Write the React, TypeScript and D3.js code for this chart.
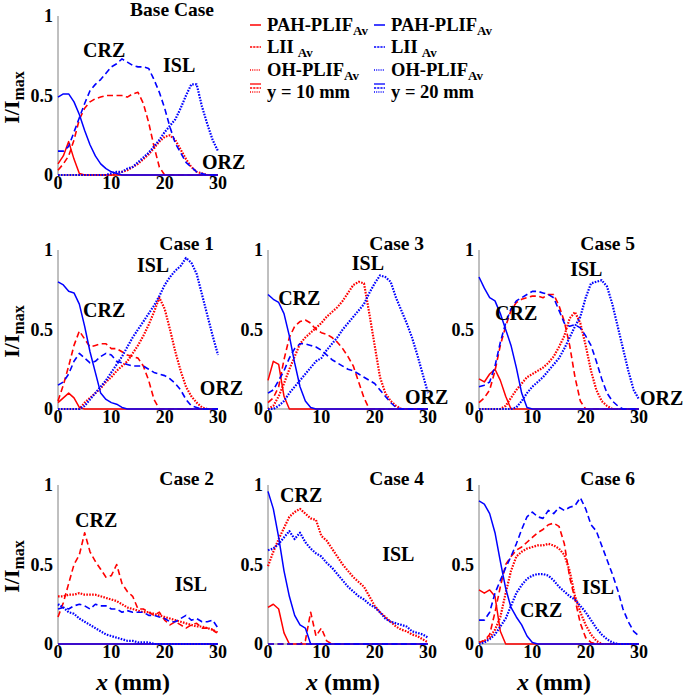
import React from 'react';
import * as d3 from 'd3';

// ---- axes / ticks ----
const X_MM = d3.range(0, 31); // sample positions, mm
const X_TICKS = [0, 10, 20, 30];
const Y_TICKS = [0, 0.5, 1];
const Y_TICK_LABELS = ['0', '0.5', '1'];

// ---- Base Case ----
const baseRedPAH = [0.07,0.12,0.21,0.1,0.01,0,0,0,0,0, 0,0,0,0,0,0,0,0,0,0, 0,0,0,0,0,0,0,0,0,0,0];
const baseRedLII = [0.03,0.07,0.12,0.22,0.35,0.42,0.46,0.48,0.49,0.5, 0.5,0.5,0.5,0.49,0.51,0.52,0.45,0.33,0.18,0.05, 0,0,0,0,0,0,0,0,0,0,0];
const baseRedOH = [0,0,0,0,0,0,0,0,0,0, 0,0.01,0.02,0.03,0.05,0.07,0.1,0.13,0.17,0.21, 0.24,0.25,0.22,0.16,0.1,0.05,0.02,0.01,0,0,0];
const baseBluePAH = [0.49,0.51,0.51,0.46,0.38,0.28,0.19,0.12,0.07,0.04, 0.02,0.01,0,0,0,0,0,0,0,0, 0,0,0,0,0,0,0,0,0,0,0];
const baseBlueLII = [0.15,0.15,0.18,0.27,0.36,0.45,0.53,0.57,0.6,0.64, 0.68,0.7,0.73,0.71,0.69,0.68,0.68,0.67,0.6,0.52, 0.42,0.3,0.2,0.14,0.08,0.05,0.02,0.01,0,0,0];
const baseBlueOH = [0,0,0,0,0,0,0,0,0,0, 0.01,0.02,0.02,0.04,0.05,0.08,0.11,0.14,0.18,0.22, 0.27,0.31,0.35,0.42,0.5,0.57,0.57,0.43,0.32,0.22,0.15];

// ---- Case 1 ----
const c1RedPAH = [0.04,0.07,0.1,0.07,0.01,0,0,0,0,0, 0,0,0,0,0,0,0,0,0,0, 0,0,0,0,0,0,0,0,0,0,0];
const c1RedLII = [0.05,0.15,0.27,0.4,0.49,0.44,0.39,0.4,0.41,0.41, 0.38,0.38,0.36,0.34,0.33,0.32,0.27,0.18,0.06,0, 0,0,0,0,0,0,0,0,0,0,0];
const c1RedOH = [0,0,0,0,0,0.04,0.07,0.1,0.13,0.17, 0.2,0.24,0.27,0.3,0.35,0.4,0.46,0.53,0.61,0.7, 0.63,0.5,0.36,0.24,0.14,0.08,0.04,0.01,0,0,0];
const c1BluePAH = [0.8,0.78,0.74,0.73,0.66,0.52,0.36,0.23,0.1,0.06, 0.04,0.03,0.01,0,0,0,0,0,0,0, 0,0,0,0,0,0,0,0,0,0,0];
const c1BlueLII = [0.15,0.17,0.22,0.3,0.35,0.32,0.29,0.3,0.33,0.35, 0.34,0.3,0.29,0.28,0.27,0.27,0.27,0.25,0.23,0.22, 0.21,0.19,0.16,0.12,0.06,0.02,0.01,0,0,0,0];
const c1BlueOH = [0,0,0,0,0,0.02,0.06,0.1,0.14,0.18, 0.23,0.28,0.33,0.39,0.45,0.5,0.55,0.6,0.65,0.71, 0.78,0.83,0.87,0.9,0.95,0.92,0.85,0.72,0.59,0.46,0.34];

// ---- Case 3 ----
const c3RedPAH = [0.18,0.3,0.28,0.08,0,0,0,0,0,0, 0,0,0,0,0,0,0,0,0,0, 0,0,0,0,0,0,0,0,0,0,0];
const c3RedLII = [0.04,0.07,0.14,0.31,0.45,0.52,0.55,0.56,0.54,0.5, 0.48,0.47,0.45,0.42,0.38,0.33,0.27,0.17,0.07,0, 0,0,0,0,0,0,0,0,0,0,0];
const c3RedOH = [0,0.02,0.08,0.16,0.25,0.33,0.41,0.45,0.48,0.51, 0.54,0.58,0.61,0.64,0.68,0.73,0.78,0.8,0.79,0.6, 0.4,0.2,0.1,0.05,0.02,0,0,0,0,0,0];
const c3BluePAH = [0.72,0.69,0.67,0.6,0.46,0.29,0.14,0.05,0.01,0, 0,0,0,0,0,0,0,0,0,0, 0,0,0,0,0,0,0,0,0,0,0];
const c3BlueLII = [0.1,0.12,0.18,0.24,0.32,0.38,0.41,0.41,0.4,0.39, 0.37,0.34,0.31,0.29,0.27,0.25,0.24,0.22,0.2,0.18, 0.16,0.12,0.08,0.04,0.01,0,0,0,0,0,0];
const c3BlueOH = [0,0,0.02,0.05,0.1,0.14,0.18,0.22,0.26,0.3, 0.32,0.37,0.41,0.45,0.5,0.54,0.58,0.62,0.66,0.73, 0.79,0.84,0.83,0.8,0.7,0.62,0.54,0.45,0.34,0.22,0.1];

// ---- Case 5 ----
const c5RedPAH = [0.19,0.17,0.22,0.25,0.18,0.08,0,0,0,0, 0,0,0,0,0,0,0,0,0,0, 0,0,0,0,0,0,0,0,0,0,0];
const c5RedLII = [0.04,0.07,0.12,0.24,0.4,0.52,0.62,0.67,0.69,0.7, 0.71,0.71,0.7,0.72,0.72,0.65,0.55,0.4,0.2,0.05, 0,0,0,0,0,0,0,0,0,0,0];
const c5RedOH = [0,0,0,0,0,0.02,0.07,0.12,0.16,0.2, 0.22,0.24,0.26,0.29,0.33,0.39,0.46,0.57,0.61,0.54, 0.4,0.24,0.12,0.05,0.02,0,0,0,0,0,0];
const c5BluePAH = [0.83,0.76,0.7,0.68,0.6,0.5,0.4,0.26,0.1,0.01, 0,0,0,0,0,0,0,0,0,0, 0,0,0,0,0,0,0,0,0,0,0];
const c5BlueLII = [0.14,0.15,0.17,0.27,0.42,0.54,0.63,0.68,0.7,0.72, 0.74,0.74,0.73,0.72,0.7,0.62,0.54,0.52,0.53,0.51, 0.46,0.4,0.3,0.19,0.1,0.05,0.02,0,0,0,0];
const c5BlueOH = [0,0,0,0,0,0,0,0.01,0.05,0.1, 0.14,0.17,0.2,0.24,0.28,0.32,0.38,0.45,0.52,0.58, 0.7,0.79,0.8,0.81,0.77,0.66,0.52,0.38,0.24,0.12,0.06];

// ---- Case 2 ----
const c2RedPAH = [0,0,0,0,0,0,0,0,0,0, 0,0,0,0,0,0,0,0,0,0, 0,0,0,0,0,0,0,0,0,0,0];
const c2RedLII = [0.17,0.26,0.38,0.5,0.56,0.7,0.58,0.52,0.47,0.42, 0.43,0.5,0.38,0.33,0.3,0.22,0.22,0.2,0.18,0.2, 0.15,0.12,0.14,0.12,0.1,0.12,0.13,0.1,0.1,0.09,0.06];
const c2RedOH = [0.3,0.3,0.31,0.31,0.32,0.31,0.31,0.31,0.3,0.29, 0.28,0.27,0.25,0.23,0.22,0.21,0.2,0.2,0.19,0.18, 0.17,0.16,0.15,0.14,0.13,0.12,0.11,0.11,0.1,0.09,0.07];
const c2BluePAH = [0,0,0,0,0,0,0,0,0,0, 0,0,0,0,0,0,0,0,0,0, 0,0,0,0,0,0,0,0,0,0,0];
const c2BlueLII = [0.22,0.23,0.22,0.24,0.25,0.24,0.22,0.25,0.24,0.24, 0.22,0.22,0.2,0.21,0.2,0.2,0.2,0.18,0.18,0.17, 0.16,0.14,0.14,0.16,0.18,0.15,0.16,0.14,0.14,0.15,0.1];
const c2BlueOH = [0.25,0.23,0.2,0.19,0.16,0.14,0.12,0.1,0.08,0.06, 0.05,0.04,0.03,0.02,0.02,0.01,0.01,0.01,0,0, 0,0,0,0,0,0,0,0,0,0,0];

// ---- Case 4 ----
const c4RedPAH = [0.23,0.25,0.22,0.07,0,0,0,0,0,0, 0,0,0,0,0,0,0,0,0,0, 0,0,0,0,0,0,0,0,0,0,0];
const c4RedLII = [0,0,0,0,0,0,0,0.02,0.2,0.05, 0.1,0.02,0,0,0,0,0,0,0,0, 0,0,0,0,0,0,0,0,0,0,0];
const c4RedOH = [0.49,0.58,0.66,0.73,0.8,0.83,0.85,0.82,0.79,0.78, 0.68,0.65,0.6,0.55,0.5,0.46,0.42,0.39,0.36,0.3, 0.24,0.2,0.17,0.14,0.11,0.09,0.08,0.06,0.05,0.03,0.01];
const c4BluePAH = [0.96,0.85,0.67,0.46,0.3,0.18,0.12,0.1,0,0, 0,0,0,0,0,0,0,0,0,0, 0,0,0,0,0,0,0,0,0,0,0];
const c4BlueLII = [0,0,0,0,0,0,0,0,0,0, 0,0,0,0,0,0,0,0,0,0, 0,0,0,0,0,0,0,0,0,0,0];
const c4BlueOH = [0.59,0.6,0.63,0.67,0.71,0.66,0.7,0.64,0.6,0.57, 0.55,0.51,0.48,0.44,0.4,0.36,0.33,0.3,0.28,0.25, 0.23,0.2,0.16,0.14,0.13,0.12,0.11,0.08,0.07,0.06,0.04];

// ---- Case 6 ----
const c6RedPAH = [0.34,0.32,0.34,0.3,0.08,0,0,0,0,0, 0,0,0,0,0,0,0,0,0,0, 0,0,0,0,0,0,0,0,0,0,0];
const c6RedLII = [0.01,0.02,0.06,0.2,0.36,0.5,0.55,0.59,0.61,0.64, 0.67,0.7,0.72,0.75,0.76,0.74,0.63,0.42,0.28,0.13, 0.04,0.01,0,0,0,0,0,0,0,0,0];
const c6RedOH = [0.01,0.02,0.04,0.09,0.17,0.32,0.46,0.55,0.58,0.6, 0.61,0.62,0.62,0.63,0.62,0.6,0.56,0.46,0.3,0.2, 0.12,0.06,0.02,0,0,0,0,0,0,0,0];
const c6BluePAH = [0.9,0.88,0.82,0.7,0.52,0.35,0.23,0.17,0.12,0.05, 0.01,0,0,0,0,0,0,0,0,0, 0,0,0,0,0,0,0,0,0,0,0];
const c6BlueLII = [0.15,0.15,0.2,0.32,0.4,0.48,0.55,0.63,0.72,0.8, 0.83,0.8,0.79,0.84,0.82,0.86,0.84,0.86,0.87,0.92, 0.85,0.75,0.71,0.62,0.53,0.44,0.34,0.22,0.14,0.08,0.05];
const c6BlueOH = [0,0.01,0.03,0.06,0.11,0.16,0.24,0.32,0.37,0.41, 0.43,0.44,0.44,0.43,0.4,0.36,0.33,0.3,0.28,0.24, 0.2,0.15,0.1,0.06,0.03,0.01,0,0,0,0,0];

// ---- region annotations: [label, x (mm), y (I/Imax) of text baseline start] ----
const baseNotes: [string, number, number][] = [['CRZ', 4.7, 0.74], ['ISL', 19.7, 0.65], ['ORZ', 27, 0.035]];
const c1Notes: [string, number, number][] = [['CRZ', 4.7, 0.58], ['ISL', 14.8, 0.86], ['ORZ', 26.6, 0.09]];
const c3Notes: [string, number, number][] = [['CRZ', 1.9, 0.655], ['ISL', 15.7, 0.875], ['ORZ', 25.7, 0.03]];
const c5Notes: [string, number, number][] = [['CRZ', 3.0, 0.56], ['ISL', 17.1, 0.835], ['ORZ', 30.2, 0.025]];
const c2Notes: [string, number, number][] = [['CRZ', 3.2, 0.735], ['ISL', 21.9, 0.335]];
const c4Notes: [string, number, number][] = [['CRZ', 2.25, 0.89], ['ISL', 21.4, 0.525]];
const c6Notes: [string, number, number][] = [['CRZ', 7.7, 0.17], ['ISL', 19.3, 0.316]];

// ---- styling ----
const FONT = '"Liberation Serif", "Times New Roman", serif';
const RED = '#ff0000';
const BLUE = '#0000ff';
const COL_X = [58, 268, 479];
const ROW_Y = [16, 250, 485];
const PW = 160;
const PH = 159;
const STYLES = [
  { dash: undefined as string | undefined, width: 1.5 },
  { dash: '6 3.5', width: 1.6 },
  { dash: '1.6 1.3', width: 2.2 },
];

const PANELS = [
  { title: 'Base Case', col: 0, row: 0, red: [baseRedPAH, baseRedLII, baseRedOH], blue: [baseBluePAH, baseBlueLII, baseBlueOH], notes: baseNotes },
  { title: 'Case 1', col: 0, row: 1, red: [c1RedPAH, c1RedLII, c1RedOH], blue: [c1BluePAH, c1BlueLII, c1BlueOH], notes: c1Notes },
  { title: 'Case 3', col: 1, row: 1, red: [c3RedPAH, c3RedLII, c3RedOH], blue: [c3BluePAH, c3BlueLII, c3BlueOH], notes: c3Notes },
  { title: 'Case 5', col: 2, row: 1, red: [c5RedPAH, c5RedLII, c5RedOH], blue: [c5BluePAH, c5BlueLII, c5BlueOH], notes: c5Notes },
  { title: 'Case 2', col: 0, row: 2, red: [c2RedPAH, c2RedLII, c2RedOH], blue: [c2BluePAH, c2BlueLII, c2BlueOH], notes: c2Notes },
  { title: 'Case 4', col: 1, row: 2, red: [c4RedPAH, c4RedLII, c4RedOH], blue: [c4BluePAH, c4BlueLII, c4BlueOH], notes: c4Notes },
  { title: 'Case 6', col: 2, row: 2, red: [c6RedPAH, c6RedLII, c6RedOH], blue: [c6BluePAH, c6BlueLII, c6BlueOH], notes: c6Notes },
];

function Panel({ p }: { p: (typeof PANELS)[number] }) {
  const x0 = COL_X[p.col];
  const y1 = ROW_Y[p.row];
  const x = d3.scaleLinear().domain([0, 30]).range([x0, x0 + PW]);
  const y = d3.scaleLinear().domain([0, 1]).range([y1 + PH, y1]);
  const line = d3.line<number>().x((_, i) => x(X_MM[i])).y((v) => y(v));
  const series = (arrs: number[][], color: string) =>
    arrs.map((a, k) => (
      <path key={color + k} d={line(a) || ''} fill="none" stroke={color}
        strokeWidth={STYLES[k].width} strokeDasharray={STYLES[k].dash} strokeLinejoin="round" />
    ));
  return (
    <g>
      <line x1={x0} x2={x0} y1={y(0)} y2={y(1)} stroke="#808080" strokeWidth={1} />
      <line x1={x0} x2={x0 + PW} y1={y(0)} y2={y(0)} stroke="#808080" strokeWidth={1} />
      {Y_TICKS.map((t, i) => (
        <text key={'yt' + i} x={x0 - 5} y={y(t)} dy="0.35em" textAnchor="end" fontSize={18} fontWeight="bold" fontFamily={FONT}>{Y_TICK_LABELS[i]}</text>
      ))}
      {X_TICKS.map((t) => (
        <text key={'xt' + t} x={x(t)} y={y(0) + 14} textAnchor="middle" fontSize={18} fontWeight="bold" fontFamily={FONT}>{t}</text>
      ))}
      {series(p.red, RED)}
      {series(p.blue, BLUE)}
      <text x={x(30) - 4} y={y1} textAnchor="end" fontSize={19.5} fontWeight="bold" fontFamily={FONT}>{p.title}</text>
      {p.notes.map(([lab, nx, ny]) => (
        <text key={lab} x={x(nx)} y={y(ny)} fontSize={20} fontWeight="bold" fontFamily={FONT}>{lab}</text>
      ))}
      {p.col === 0 && (
        <text transform={`translate(19,${y(0.5) + 2}) rotate(-90)`} textAnchor="middle" fontSize={22} fontWeight="bold" fontFamily={FONT}>
          I/I<tspan fontSize={16} dy={5}>max</tspan>
        </text>
      )}
      {p.row === 2 && (
        <text x={(x(0) + x(30)) / 2 - 5} y={y(0) + 46} textAnchor="middle" fontSize={24} fontWeight="bold" fontFamily={FONT}>
          <tspan fontStyle="italic">x</tspan> (mm)
        </text>
      )}
    </g>
  );
}

const LEGEND_LABELS = ['PAH-PLIF', 'LII', 'OH-PLIF'];

function Legend() {
  const cols = [
    { color: RED, lx: 250, tx: 267, last: 'y = 10 mm' },
    { color: BLUE, lx: 374, tx: 391, last: 'y = 20 mm' },
  ];
  const rowsY = [31, 53, 76];
  return (
    <g fontFamily={FONT} fontWeight="bold">
      {cols.map((c, ci) => (
        <g key={ci}>
          {LEGEND_LABELS.map((lab, k) => (
            <g key={lab}>
              <line x1={c.lx} x2={c.lx + 11} y1={rowsY[k] - 6} y2={rowsY[k] - 6} stroke={c.color}
                strokeWidth={k === 2 ? 1.4 : 1.5} strokeDasharray={k === 0 ? undefined : k === 1 ? '2.2 1' : '1 1.2'} />
              <text x={c.tx} y={rowsY[k]} fontSize={18.5}>
                {lab}<tspan fontSize={13} dy={4} dx={lab === 'LII' ? 4 : 0}>Av</tspan>
              </text>
            </g>
          ))}
          {[0, 1, 2].map((k) => (
            <line key={'st' + k} x1={c.lx} x2={c.lx + 11} y1={84 + k * 4} y2={84 + k * 4} stroke={c.color}
              strokeWidth={1.3} strokeDasharray={k === 0 ? undefined : k === 1 ? '2.2 1' : '1 1.2'} />
          ))}
          <text x={c.tx} y={98} fontSize={18.5}>{c.last}</text>
        </g>
      ))}
    </g>
  );
}

export default function App() {
  return (
    <svg width={685} height={695} style={{ position: 'absolute', left: 0, top: 0, background: '#fff' }}>
      <rect x={0} y={0} width={685} height={695} fill="#fff" />
      {PANELS.map((p) => <Panel key={p.title} p={p} />)}
      <Legend />
    </svg>
  );
}
